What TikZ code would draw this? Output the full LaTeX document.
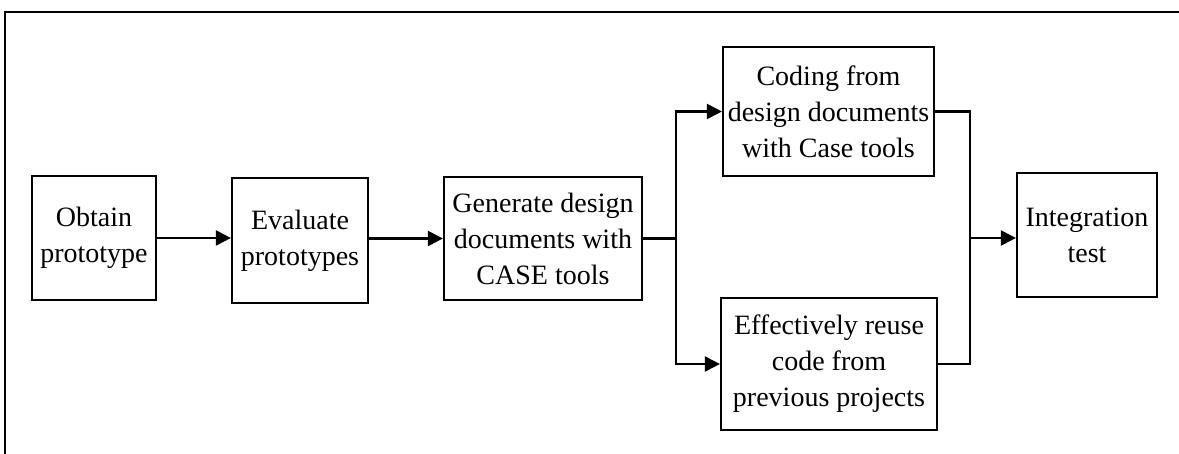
\documentclass[tikz,border=0pt]{standalone}
\usepackage{fontspec}
\setmainfont{Liberation Serif}
\usetikzlibrary{arrows.meta}
\begin{document}
\begin{tikzpicture}[x=1pt,y=-1pt,
  box/.style={draw,line width=2.2pt,inner sep=0pt,align=center,
    font=\fontsize{28}{36}\selectfont},
  link/.style={line width=2.2pt},
  arr/.style={link,-{Triangle[length=15pt,width=15pt]}}]
\useasboundingbox (0,0) rectangle (1179,454);
\draw[line width=1.8pt] (5,454) -- (5,12) -- (1179,12);
\node[box,minimum width=124pt,minimum height=124pt] (obtain) at (94,238) {Obtain\\prototype};
\node[box,minimum width=136pt,minimum height=125pt] (evaluate) at (300,240.5) {Evaluate\\prototypes};
\node[box,minimum width=198pt,minimum height=123pt] (generate) at (543,238.5) {Generate design\\documents with\\CASE tools};
\node[box,minimum width=211pt,minimum height=129pt] (coding) at (828.5,111.5) {Coding from\\design documents\\with Case tools};
\node[box,minimum width=216pt,minimum height=132pt] (reuse) at (829,364) {Effectively reuse\\code from\\previous projects};
\node[box,minimum width=140pt,minimum height=124pt] (integ) at (1087,235) {Integration\\test};
\coordinate (branch) at (676,238.5);
\coordinate (merge) at (970,238);
\draw[arr] (obtain.east) -- (obtain.east -| evaluate.west);
\draw[arr] (evaluate.east |- generate.west) -- (generate.west);
\draw[link] (generate.east) -- (branch);
\draw[arr] (branch) |- (coding.west);
\draw[arr] (branch) |- (reuse.west);
\draw[link] (coding.east) -| (merge);
\draw[link] (reuse.east) -| (merge);
\draw[arr] (merge) -- (merge -| integ.west);
\end{tikzpicture}
\end{document}
